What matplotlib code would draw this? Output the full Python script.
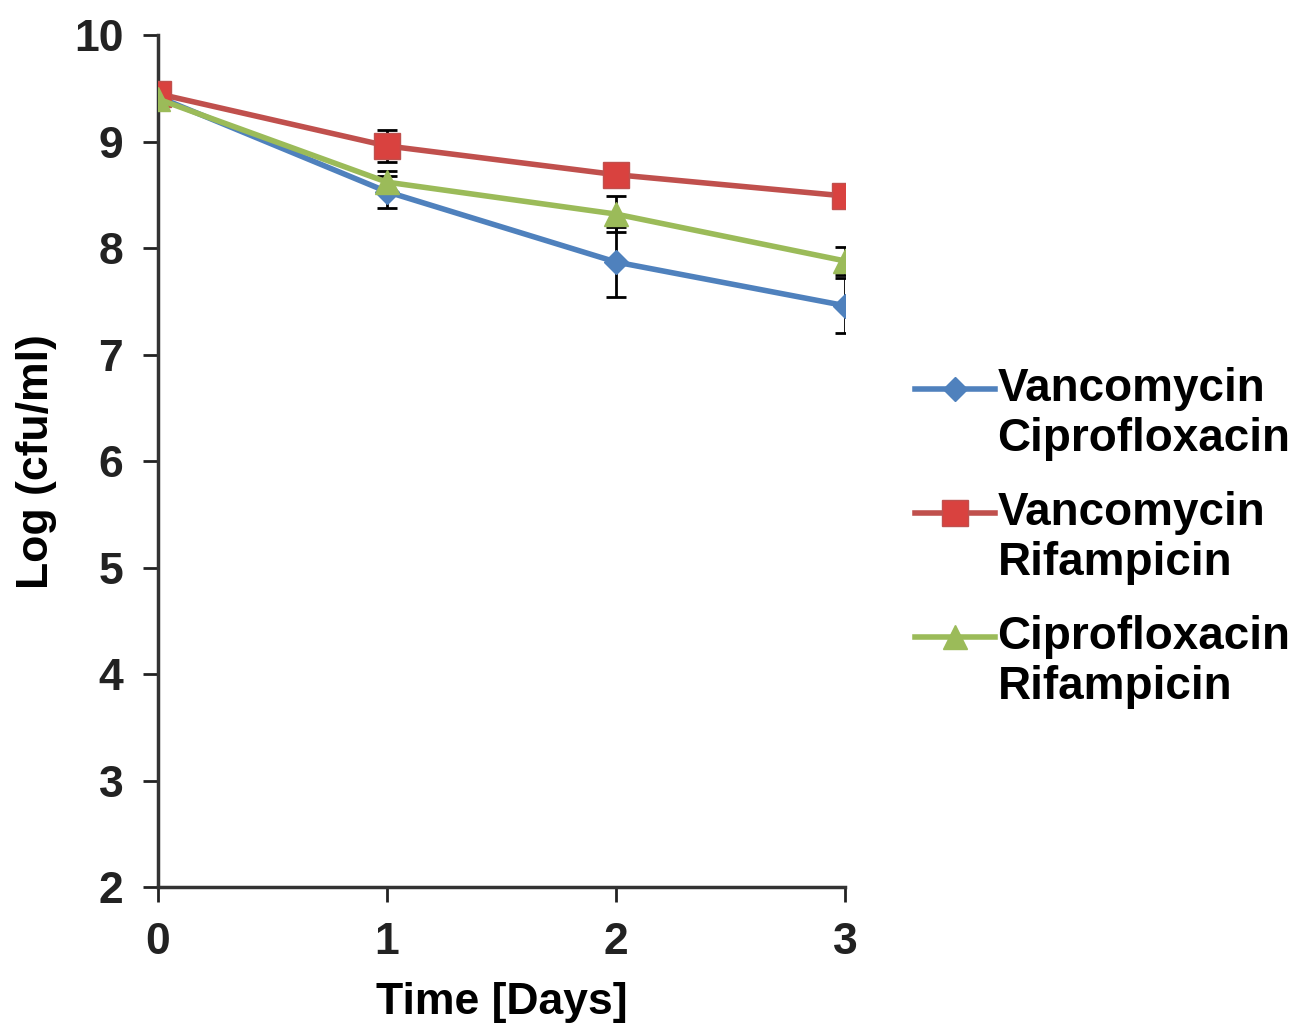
import numpy as np
import matplotlib
matplotlib.use("Agg")
import matplotlib.pyplot as plt
from matplotlib.legend_handler import HandlerLine2D

plt.rcParams['font.family'] = ['Liberation Sans', 'DejaVu Sans']
plt.rcParams['font.weight'] = 'bold'

# data
days = [0, 1, 2, 3]
labels = ["Vancomycin\nCiprofloxacin", "Vancomycin\nRifampicin", "Ciprofloxacin\nRifampicin"]
vanc_cipro = [9.42, 8.53, 7.87, 7.46]
vanc_cipro_err = [0.05, 0.15, 0.33, 0.26]
vanc_rif = [9.45, 8.96, 8.69, 8.49]
vanc_rif_err = [0.05, 0.15, 0.08, 0.08]
cipro_rif = [9.40, 8.62, 8.32, 7.88]
cipro_rif_err = [0.05, 0.10, 0.17, 0.13]


class FirstLineHandler(HandlerLine2D):
    # moves the legend handle up to the first line of a two-line label
    def create_artists(self, legend, orig_handle, xdescent, ydescent, width, height,
                       fontsize, trans):
        arts = super().create_artists(legend, orig_handle, xdescent, ydescent, width,
                                      height, fontsize, trans)
        for a in arts:
            x, y = a.get_data()
            a.set_data(x, np.asarray(y) + 0.57 * fontsize)
        return arts


fig = plt.figure(figsize=(13.11, 10.34), dpi=100)
ax = fig.add_axes([0.1205, 0.142, 0.524, 0.824])

c1 = ax.errorbar(days, vanc_cipro, yerr=vanc_cipro_err, color='#4F81BD', marker='D',
                 markersize=12, lw=4, ecolor='black', elinewidth=2, capsize=7, capthick=2,
                 zorder=3)
c2 = ax.errorbar(days, vanc_rif, yerr=vanc_rif_err, color='#C0504D', marker='s',
                 markersize=19, lw=4, ecolor='black', elinewidth=2, capsize=7, capthick=2,
                 markerfacecolor='#D9423F', zorder=3)
c3 = ax.errorbar(days, cipro_rif, yerr=cipro_rif_err, color='#9BBB59', marker='^',
                 markersize=17, lw=4, ecolor='black', elinewidth=2, capsize=7, capthick=2,
                 zorder=3)

ax.set_xlim(0, 3)
ax.set_ylim(2, 10)
ax.set_xticks(days)
ax.set_yticks(range(2, 11))
ax.set_xlabel('Time [Days]', fontsize=32, fontweight='bold', labelpad=14)
ax.set_ylabel('Log (cfu/ml)', fontsize=32, fontweight='bold', labelpad=12)
ax.tick_params(labelsize=32, width=2, length=11, direction='out', colors='#222222', pad=14)
for s in ['top', 'right']:
    ax.spines[s].set_visible(False)
for s in ['left', 'bottom']:
    ax.spines[s].set_linewidth(2.5)
    ax.spines[s].set_color('#333333')

hl = FirstLineHandler()
leg = fig.legend([c1.lines[0], c2.lines[0], c3.lines[0]], labels,
                 loc='upper left', bbox_to_anchor=(0.698, 0.645), frameon=False,
                 handlelength=1.75, handletextpad=0.05, labelspacing=0.67,
                 borderpad=0, borderaxespad=0,
                 handler_map={c1.lines[0]: hl, c2.lines[0]: hl, c3.lines[0]: hl},
                 prop={'weight': 'bold', 'size': 33})
for t in leg.get_texts():
    t.set_linespacing(1.16)

fig.savefig('out.png', dpi=100)
